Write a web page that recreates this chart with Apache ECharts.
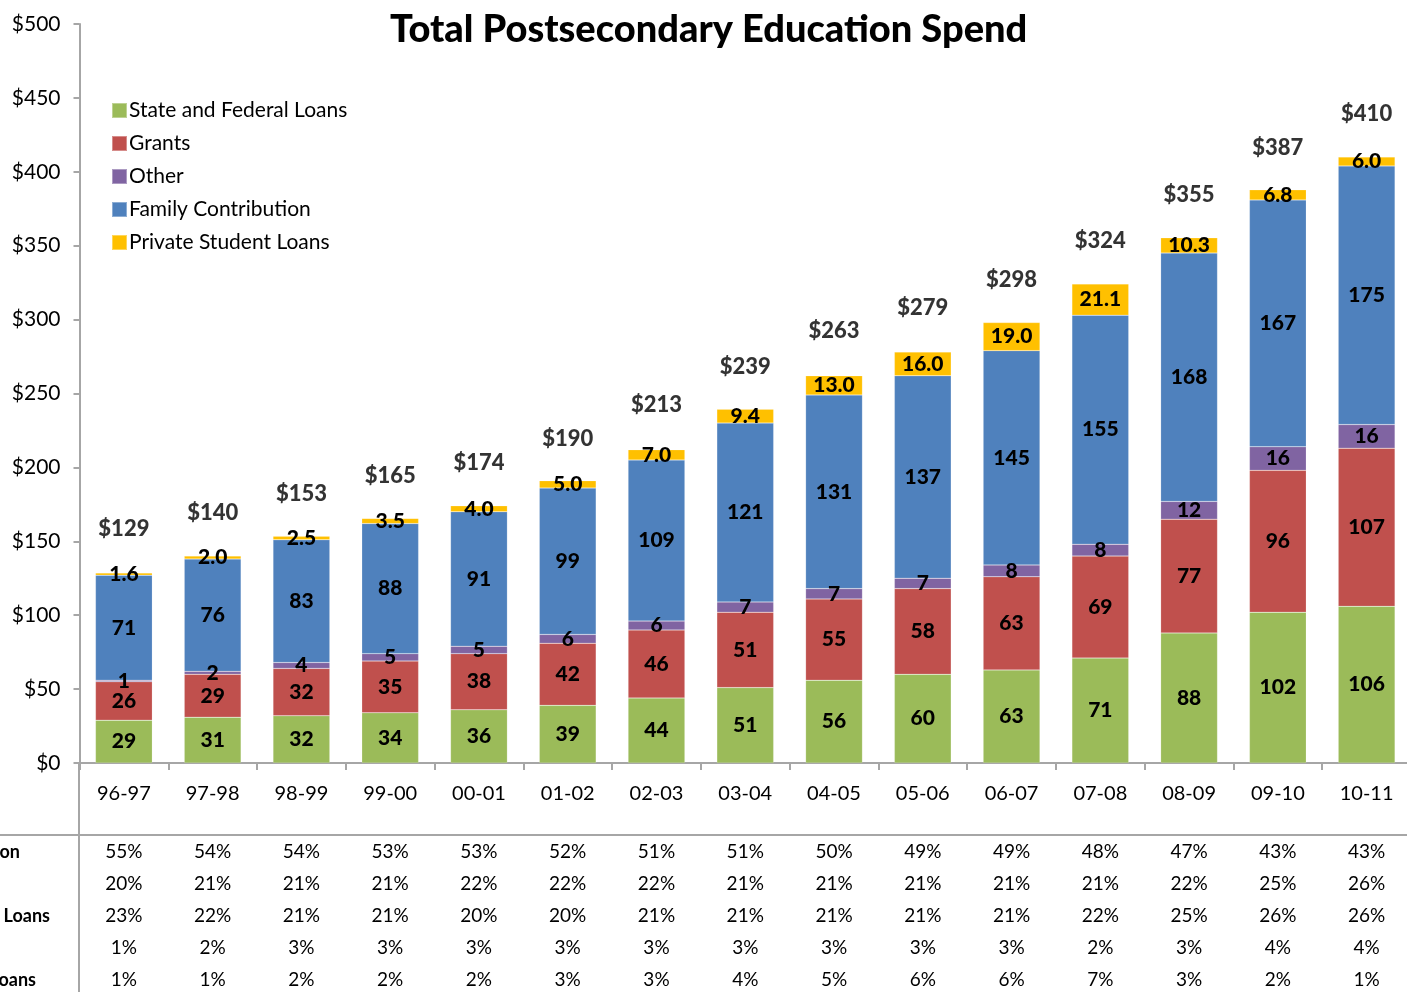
<!DOCTYPE html>
<html>
<head>
<meta charset="utf-8">
<title>Total Postsecondary Education Spend</title>
<style>
html,body{margin:0;padding:0;background:#fff;}
#main{width:1407px;height:992px;}
</style>
</head>
<body>
<div id="main"></div>
<script src="https://cdn.jsdelivr.net/npm/echarts@6/dist/echarts.min.js"></script>
<script type="text/javascript">
var years = ['96-97','97-98','98-99','99-00','00-01','01-02','02-03','03-04','04-05','05-06','06-07','07-08','08-09','09-10','10-11'];

// $ billions per year
var stateFederalLoans = [29,31,32,34,36,39,44,51,56,60,63,71,88,102,106];
var grants            = [26,29,32,35,38,42,46,51,55,58,63,69,77,96,107];
var other             = [1,2,4,5,5,6,6,7,7,7,8,8,12,16,16];
var familyContrib     = [71,76,83,88,91,99,109,121,131,137,145,155,168,167,175];
var privateLoans      = [1.6,2.0,2.5,3.5,4.0,5.0,7.0,9.4,13.0,16.0,19.0,21.1,10.3,6.8,6.0];
var totals            = [129,140,153,165,174,190,213,239,263,279,298,324,355,387,410];

var yTicks = [0,50,100,150,200,250,300,350,400,450,500];

// share table under the chart (percent)
var shareFamily  = [55,54,54,53,53,52,51,51,50,49,49,48,47,43,43];
var shareGrants  = [20,21,21,21,22,22,22,21,21,21,21,21,22,25,26];
var shareLoans   = [23,22,21,21,20,20,21,21,21,21,21,22,25,26,26];
var shareOther   = [1,2,3,3,3,3,3,3,3,3,3,2,3,4,4];
var sharePrivate = [1,1,2,2,2,3,3,4,5,6,6,7,3,2,1];

var FONT = 'Lato, "Open Sans", sans-serif';
var myChart = echarts.init(document.getElementById('main'));

function segLabel(fmt){
    return {
        show: true,
        position: 'inside',
        color: '#000',
        fontFamily: FONT,
        fontWeight: 900,
        fontSize: 21,
        formatter: fmt || '{c}'
    };
}

function barSeries(name, data, color, fmt){
    return {
        name: name,
        type: 'bar',
        stack: 'spend',
        barWidth: '64%',
        data: data,
        itemStyle: {color: color, borderColor: 'rgba(255,255,255,0.35)', borderWidth: 0.5},
        label: segLabel(fmt)
    };
}

// one hidden category axis per table row, so the numbers sit on the bar centres
function shareAxis(row, offset){
    return {
        type: 'category',
        data: years,
        position: 'bottom',
        offset: offset,
        axisLine: {show: false},
        axisTick: {show: false},
        axisLabel: {
            interval: 0,
            margin: 22,
            color: '#000',
            fontFamily: FONT,
            fontSize: 19,
            formatter: function(v, i){ return row[i] + '%'; }
        }
    };
}

var lineColor = '#a6a6a6';

option = {
    animation: false,
    backgroundColor: '#fff',
    title: {
        text: 'Total Postsecondary Education Spend',
        left: 385,
        top: 6,
        textStyle: {fontFamily: FONT, fontWeight: 900, fontSize: 38, color: '#000'}
    },
    legend: {
        orient: 'vertical',
        left: 111,
        top: 99,
        padding: 0,
        itemWidth: 15,
        itemHeight: 15,
        itemGap: 10,
        icon: 'rect',
        data: ['State and Federal Loans','Grants','Other','Family Contribution','Private Student Loans'],
        textStyle: {fontFamily: FONT, fontSize: 21, lineHeight: 23, color: '#000', padding: [0,0,0,-3]}
    },
    grid: {left: 79.5, width: 1331.5, top: 24, bottom: 229, containLabel: false, outerBoundsMode: 'none'},
    xAxis: [
        {
            type: 'category',
            data: years,
            axisLine: {lineStyle: {color: lineColor, width: 2}},
            axisTick: {show: true, length: 7, lineStyle: {color: lineColor, width: 2}},
            axisLabel: {interval: 0, margin: 21, color: '#000', fontFamily: FONT, fontSize: 20}
        },
        shareAxis(shareFamily, 57),
        shareAxis(shareGrants, 89),
        shareAxis(shareLoans, 121),
        shareAxis(shareOther, 153),
        shareAxis(sharePrivate, 185)
    ],
    yAxis: {
        type: 'value',
        min: yTicks[0],
        max: yTicks[yTicks.length - 1],
        interval: 50,
        axisLine: {show: true, lineStyle: {color: lineColor, width: 2}},
        axisTick: {show: true, length: 6, lineStyle: {color: lineColor, width: 2}},
        splitLine: {show: false},
        axisLabel: {
            margin: 19,
            color: '#000',
            fontFamily: FONT,
            fontSize: 21,
            formatter: function(v){ return '$' + v; }
        }
    },
    series: [
        barSeries('State and Federal Loans', stateFederalLoans, '#9BBB59'),
        barSeries('Grants', grants, '#C0504D'),
        barSeries('Other', other, '#8064A2'),
        barSeries('Family Contribution', familyContrib, '#4F81BD'),
        barSeries('Private Student Loans', privateLoans, '#FFC000', function(p){ return p.value.toFixed(1); }),
        {
            name: 'Total',
            type: 'scatter',
            symbolSize: 0,
            data: totals,
            silent: true,
            label: {
                show: true,
                position: 'top',
                distance: 32,
                color: '#000',
                fontFamily: FONT,
                fontWeight: 900,
                fontSize: 22,
                formatter: function(p){ return '$' + p.value; }
            }
        }
    ],
    graphic: [
        // table borders
        {type: 'line', shape: {x1: 0, y1: 835, x2: 1407, y2: 835}, style: {stroke: lineColor, lineWidth: 2}},
        {type: 'line', shape: {x1: 79, y1: 763, x2: 79, y2: 992}, style: {stroke: lineColor, lineWidth: 2}},
        // row names, clipped by the left edge as in the original
        {type: 'text', x: 20, y: 852, style: {text: 'Family Contribution', align: 'right', verticalAlign: 'middle', font: 'bold 18px ' + FONT, fill: '#000'}},
        {type: 'text', x: -90, y: 884, style: {text: 'Grants', align: 'right', verticalAlign: 'middle', font: 'bold 18px ' + FONT, fill: '#000'}},
        {type: 'text', x: 50, y: 916, style: {text: 'State and Federal Loans', align: 'right', verticalAlign: 'middle', font: 'bold 18px ' + FONT, fill: '#000'}},
        {type: 'text', x: -95, y: 948, style: {text: 'Other', align: 'right', verticalAlign: 'middle', font: 'bold 18px ' + FONT, fill: '#000'}},
        {type: 'text', x: 36, y: 980, style: {text: 'Private Student Loans', align: 'right', verticalAlign: 'middle', font: 'bold 18px ' + FONT, fill: '#000'}}
    ]
};

myChart.setOption(option);
</script>
</body>
</html>
